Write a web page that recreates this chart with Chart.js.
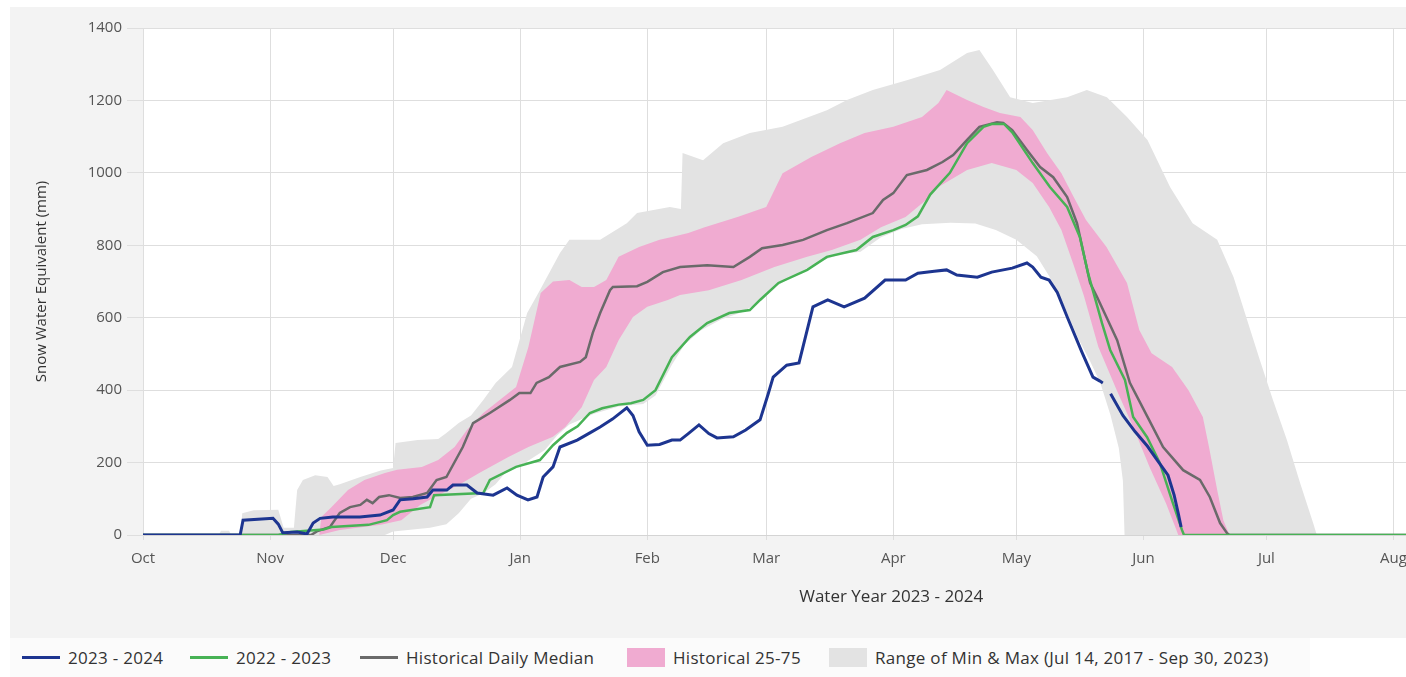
<!DOCTYPE html>
<html>
<head>
<meta charset="utf-8">
<script src="https://cdn.jsdelivr.net/npm/chart.js@4.4.0/dist/chart.umd.min.js"></script>
<style>
  html, body { margin: 0; padding: 0; background: #fff; overflow: hidden; width: 1406px; height: 677px; }
  #panel { position: absolute; left: 10px; top: 7px; width: 1700px; height: 631px; background: #f3f3f3; }
  #legend { position: absolute; left: 10px; top: 638px; width: 1300px; height: 39px; background: #fbfbfb;
            font-family: 'Open Sans', sans-serif; font-size: 17px; letter-spacing: 0.3px; color: #333; }
  .item { position: absolute; top: 0; height: 39px; white-space: nowrap; }
  .swatch { position: absolute; width: 38px; }
  .label { position: absolute; left: 46px; top: 0; line-height: 39px; }
</style>
</head>
<body>
<div id="panel"><canvas id="sweChart"></canvas></div>
<div id="legend"></div>
<script>
// days counted from Oct 1, 2023 (day 0); values in mm
const monthDays = [0, 31, 61, 92, 123, 152, 183, 213, 244, 274, 305, 336];
const monthLabels = ['Oct', 'Nov', 'Dec', 'Jan', 'Feb', 'Mar', 'Apr', 'May', 'Jun', 'Jul', 'Aug', 'Sep'];
const yTicks = [0, 200, 400, 600, 800, 1000, 1200, 1400];

const swe2324 = [[0,0],[23.7,0],[24.4,41],[31.7,46],[33,30],[34.1,6],[37.6,8],[40,3],[41.5,33],[43.2,46],[46.3,50],
  [52.9,50],[57.8,55],[61,69],[62.7,97],[65.9,100],[69.3,105],[70.7,124],[74.1,124],[75.6,138],[79,138],[81.5,116],
  [85.4,110],[88.8,130],[91.2,110],[93.9,97],[96.1,105],[97.6,160],[100,188],[101.7,243],[105.9,262],[109,282],
  [111.5,298],[114.5,320],[118,351],[119.5,330],[121,285],[123,248],[126,250],[129,262],[131,262],[133,280],
  [135.6,304],[138,280],[140,268],[144,271],[147,290],[150.5,318],[152.5,390],[153.7,436],[157,469],[160,475],
  [163.4,630],[167,649],[171,630],[176,654],[181,704],[186,704],[189,723],[193,728],[196,732],[198.5,718],
  [203.5,712],[207,726],[212,737],[215.6,751],[217,740],[219,712],[221,704],[223,670],[225.5,600],[229,505],
  [231.7,436],[233.4,425],[234.1,420],[235,null],[236,390],[239,330],[242,285],[245,245],[247.5,205],[250,165],
  [251.5,110],[252.5,60],[253.2,22]];

const swe2223 = [[0,0],[33,0],[36,8],[44,15],[46,22],[55,28],[59.5,41],[61,55],[62.7,64],[70,77],[71,110],[83,116],
  [84.6,152],[91,188],[96.8,207],[100,248],[103.4,282],[106,300],[109,337],[112,350],[116,360],[119,364],[122,373],
  [125,400],[129,491],[133.4,547],[137.6,585],[143,613],[148,621],[150.5,649],[155,696],[162,732],[166.8,768],
  [174,787],[178,823],[183,842],[186,856],[189,880],[192,940],[196.8,1000],[201,1082],[205,1127],[207,1135],
  [210,1135],[212,1112],[217,1027],[221.2,961],[225.4,906],[228.5,823],[230.5,723],[233.9,585],[235.9,511],
  [239.5,428],[241.5,326],[244.9,270],[248,199],[251.2,88],[253.4,14],[253.9,0],[310,0]];

const medianSwe = [[0,0],[41,0],[42.4,10],[45.6,22],[48,61],[50.5,77],[53,83],[54.6,97],[56,88],[57.6,105],[60,110],
  [62.7,102],[65.8,105],[69.3,116],[71.6,152],[74,160],[78,243],[80.5,309],[84.6,337],[89.5,373],[91.8,392],
  [94.5,392],[96,420],[99,436],[101.7,464],[106.6,478],[108,491],[109.7,558],[111.5,613],[113.9,676],[114.6,685],
  [120.5,687],[123,699],[126.8,726],[131,740],[137.6,745],[144,740],[148,768],[151,792],[156,801],[161,815],
  [166.8,842],[171.7,861],[178,889],[180.5,925],[183,944],[186.3,994],[191.2,1008],[195,1030],[197.6,1049],
  [201,1091],[204,1127],[208.3,1140],[209.8,1138],[212,1118],[215.6,1063],[218.8,1016],[222,988],[225.4,933],
  [227.8,861],[231,696],[232.7,657],[237.6,538],[240.7,420],[245,326],[248.8,243],[253.7,179],[257.8,152],
  [260.2,105],[262.7,33],[264.4,5],[265,0],[310,0]];

const pct75 = [[0,0],[43,0],[43.5,50],[46,77],[50,124],[54,152],[59,171],[62,180],[68,188],[72,207],[76,243],[79,290],
  [83,337],[87,373],[91,409],[94,519],[97,668],[100,700],[104,704],[107,685],[110,685],[113,704],[116,768],[121,795],
  [126,815],[129,823],[133,834],[137,850],[145,878],[152,906],[156,999],[163,1044],[170,1082],[176,1110],[183,1127],
  [190,1154],[194,1193],[196,1229],[201,1201],[205,1182],[209,1165],[214,1154],[217,1118],[220.5,1055],[224,999],
  [227,933],[230,870],[235,795],[240,696],[243,566],[246,502],[251,464],[255,400],[258.5,326],[260,243],[262,124],
  [263.5,41],[265,0],[366,0]];

const pct25 = [[0,0],[43,0],[48,14],[58,28],[63,41],[67.6,83],[72,110],[77,138],[82,171],[89,215],[94,243],[100,271],
  [103,298],[107,353],[110,428],[113,464],[116,538],[119.5,602],[123,630],[128,649],[131,663],[138,676],[146,704],
  [154,740],[162,768],[168,787],[175,815],[180,850],[186,878],[191,925],[194,961],[201,1008],[207,1027],[213,1008],
  [217,972],[221,906],[224,842],[227,745],[229.5,660],[233,520],[237.5,400],[241.5,298],[245.5,188],[249.5,88],
  [252,15],[252.5,0],[366,0]];

const rangeMax = [[0,0],[18.5,0],[19,12],[21,12],[21.5,0],[23.8,0],[24.2,60],[27,68],[33,70],[34.3,20],[36.8,20],
  [37.6,124],[39,152],[42,165],[45,160],[46.5,135],[48,140],[53,160],[58,178],[61,185],[61.6,254],[67,262],[72,265],
  [74,282],[77,309],[80,330],[83,373],[86,420],[90,464],[93.7,613],[96.8,676],[101.7,779],[104,815],[111.5,815],
  [118,861],[120.5,889],[128.5,906],[131.2,900],[131.6,1055],[136.6,1035],[141.5,1082],[148,1110],[156,1127],
  [166.8,1173],[171.7,1201],[178,1229],[186.3,1256],[194.4,1284],[201,1331],[204,1339],[207.3,1284],[211.5,1209],
  [217,1193],[225.4,1209],[230.2,1229],[235.1,1209],[240,1154],[245,1091],[250.5,961],[256,861],[262,815],[266,712],
  [269.3,594],[272.4,483],[275.6,373],[279,262],[282.2,144],[285.4,33],[286.3,0],[366,0]];

const rangeMin = [[0,0],[59,0],[61,10],[70,20],[74,30],[77,60],[80,100],[83,115],[86,140],[89,180],[93,198],[98,235],
  [101,275],[104,305],[110,335],[116,355],[122,362],[125,385],[129,470],[132,525],[136,565],[141,595],[146,615],
  [150,640],[155,690],[160,725],[165,755],[170,775],[175,782],[180,822],[185,845],[190,858],[197,862],[203,860],
  [208,842],[213,815],[218,770],[221,715],[224,650],[228,545],[231,480],[233.5,420],[236,330],[238,240],[239,150],
  [239.4,0],[366,0]];

const BLUE = '#1d3590';
const GREEN = '#47b255';
const MEDIAN = '#6a6a6a';
const PINK = '#f0abd1';
const RANGE = '#e3e3e3';

function toPoints(pairs) {
    return pairs.map(p => ({ x: p[0], y: p[1] }));
}

// white plot area on the grey panel
const plotBackground = {
    id: 'plotBackground',
    beforeDraw(chart) {
        const { ctx, chartArea } = chart;
        ctx.save();
        ctx.fillStyle = '#ffffff';
        ctx.fillRect(chartArea.left, chartArea.top, chartArea.right - chartArea.left, chartArea.bottom - chartArea.top);
        ctx.restore();
    }
};

const axisFont = { family: 'Open Sans', size: 15 };

const ctx = document.getElementById('sweChart').getContext('2d');
new Chart(ctx, {
    type: 'line',
    data: {
        datasets: [
            { label: '2023 - 2024', data: toPoints(swe2324), borderColor: BLUE, borderWidth: 3, fill: false, spanGaps: false },
            { label: '2022 - 2023', data: toPoints(swe2223), borderColor: GREEN, borderWidth: 2.5, fill: false },
            { label: 'Historical Daily Median', data: toPoints(medianSwe), borderColor: MEDIAN, borderWidth: 2.5, fill: false },
            { label: 'Historical 25-75', data: toPoints(pct75), borderWidth: 0, borderColor: PINK, backgroundColor: PINK, fill: '+1' },
            { label: '25th percentile', data: toPoints(pct25), borderWidth: 0, borderColor: PINK, fill: false },
            { label: 'Range of Min & Max (Jul 14, 2017 - Sep 30, 2023)', data: toPoints(rangeMax), borderWidth: 0, borderColor: RANGE, backgroundColor: RANGE, fill: '+1' },
            { label: 'Minimum', data: toPoints(rangeMin), borderWidth: 0, borderColor: RANGE, fill: false }
        ]
    },
    options: {
        responsive: true,
        maintainAspectRatio: false,
        animation: false,
        layout: { padding: { top: 21, right: 70.5, bottom: 0, left: 0 } },
        elements: { point: { radius: 0 }, line: { tension: 0 } },
        plugins: {
            legend: { display: false },
            tooltip: { enabled: false }
        },
        scales: {
            x: {
                type: 'linear',
                min: 0,
                max: 365,
                afterBuildTicks(scale) { scale.ticks = monthDays.map(v => ({ value: v })); },
                afterFit(scale) { scale.height = 103; },
                ticks: {
                    callback: v => monthLabels[monthDays.indexOf(v)],
                    font: axisFont, color: '#555', padding: 10, maxRotation: 0, autoSkip: false
                },
                grid: { color: '#dedede', tickLength: 5 },
                border: { color: '#d4d4d4' },
                title: { display: true, text: 'Water Year 2023 - 2024', font: { family: 'Open Sans', size: 17 }, color: '#333', padding: { top: 0, bottom: 31 } }
            },
            y: {
                min: 0,
                max: 1400,
                afterBuildTicks(scale) { scale.ticks = yTicks.map(v => ({ value: v })); },
                afterFit(scale) { scale.width = 133; },
                ticks: { font: axisFont, color: '#555', padding: 5, callback: v => String(v) },
                grid: { color: '#dedede', tickLength: 16 },
                border: { color: '#dedede' },
                title: { display: true, text: 'Snow Water Equivalent (mm)', font: { family: 'Open Sans', size: 15 }, color: '#333', padding: { top: 23, bottom: 0 } }
            }
        }
    },
    plugins: [plotBackground]
});

// legend strip under the chart
const legendItems = [
    { text: '2023 - 2024', color: BLUE, kind: 'line' },
    { text: '2022 - 2023', color: GREEN, kind: 'line' },
    { text: 'Historical Daily Median', color: MEDIAN, kind: 'line' },
    { text: 'Historical 25-75', color: PINK, kind: 'box' },
    { text: 'Range of Min & Max (Jul 14, 2017 - Sep 30, 2023)', color: RANGE, kind: 'box' }
];
const legendLeft = [12, 180, 350, 617, 819];

const legendEl = document.getElementById('legend');
legendItems.forEach((item, i) => {
    const div = document.createElement('div');
    div.className = 'item';
    div.style.left = legendLeft[i] + 'px';
    const sw = document.createElement('span');
    sw.className = 'swatch';
    sw.style.background = item.color;
    if (item.kind === 'line') {
        sw.style.top = '18px';
        sw.style.height = '3px';
    } else {
        sw.style.top = '10px';
        sw.style.height = '19px';
    }
    const lab = document.createElement('span');
    lab.className = 'label';
    lab.textContent = item.text;
    div.appendChild(sw);
    div.appendChild(lab);
    legendEl.appendChild(div);
});
</script>
</body>
</html>
